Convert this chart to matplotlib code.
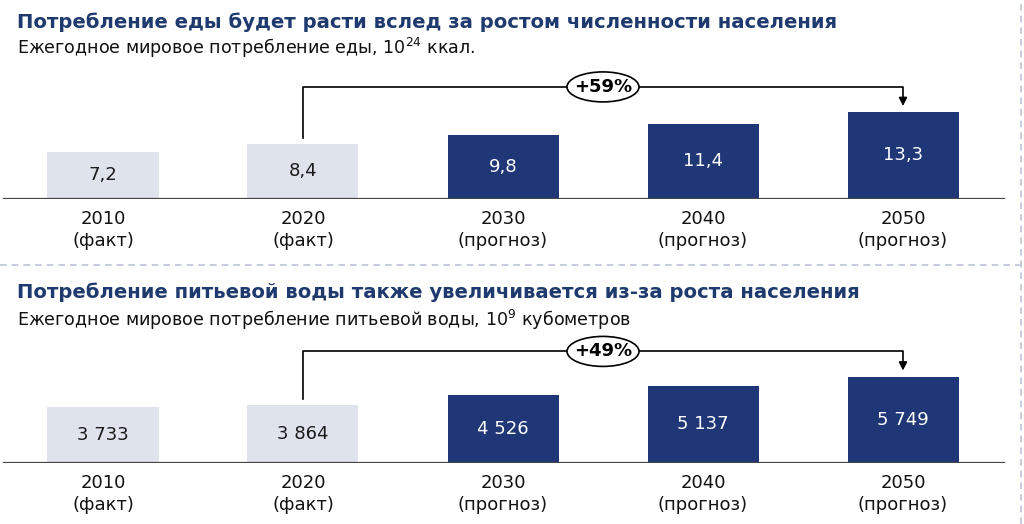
import numpy as np
import matplotlib.pyplot as plt
from matplotlib.patches import Ellipse

plt.rcParams['font.family'] = ['DejaVu Sans']

years = ['2010', '2020', '2030', '2040', '2050']
kinds = ['(факт)', '(факт)', '(прогноз)', '(прогноз)', '(прогноз)']

food_values = [7.2, 8.4, 9.8, 11.4, 13.3]
food_labels = ['7,2', '8,4', '9,8', '11,4', '13,3']
food_growth = '+59%'
food_title = 'Потребление еды будет расти вслед за ростом численности населения'
food_sub = 'Ежегодное мировое потребление еды, 10$^{24}$ ккал.'

water_values = [3733, 3864, 4526, 5137, 5749]
water_labels = ['3 733', '3 864', '4 526', '5 137', '5 749']
water_growth = '+49%'
water_title = 'Потребление питьевой воды также увеличивается из-за роста населения'
water_sub = 'Ежегодное мировое потребление питьевой воды, 10$^{9}$ кубометров'

W, H = 1024, 524
LIGHT = '#DFE3EC'
DARK = '#1F3677'
TITLE_C = '#1F3A6E'
GRID_C = '#BCC4D4'

fig = plt.figure(figsize=(W / 100, H / 100), dpi=100)


def fx(px):
    return px / W


def fy(py):
    return 1 - py / H


def draw_panel(values, labels, growth, title, sub, y_title, y_sub, y_base):
    top_px = y_base - 140
    ax = fig.add_axes([fx(3), fy(y_base), fx(1005 - 3), (y_base - top_px) / H])
    vmax = max(values)
    k = 86.5 / vmax            # pixels per unit
    ax.set_ylim(0, 140 / k)
    ax.set_xlim(-0.5, 4.51)
    ax.axis('off')

    x = np.arange(len(values))
    colors = [LIGHT, LIGHT, DARK, DARK, DARK]
    ax.bar(x, values, width=0.555, color=colors, zorder=2)
    ax.axhline(0, color='#444444', lw=1.6, zorder=3)

    for i, v in enumerate(values):
        tc = '#1a1a1a' if i < 2 else 'white'
        ax.text(i, v / 2, labels[i], ha='center', va='center', fontsize=13,
                color=tc, zorder=4)

    # bracket from 2020 to 2050
    yb = vmax * 1.29
    gap = 6 / k
    ax.plot([1, 1, 4, 4], [values[1] + gap, yb, yb, vmax + gap + 6 / k],
            color='black', lw=1.2, zorder=3)
    ax.annotate('', xy=(4, vmax + gap), xytext=(4, vmax + gap + 7 / k),
                arrowprops=dict(arrowstyle='-|>', color='black', lw=1.2,
                                mutation_scale=12, shrinkA=0, shrinkB=0))
    ax.add_patch(Ellipse((2.5, yb), 72 / 200, 30 / k, facecolor='white',
                         edgecolor='black', lw=1.2, zorder=5))
    ax.text(2.5, yb, growth, ha='center', va='center', fontsize=13,
            fontweight='bold', zorder=6)

    for i in range(len(years)):
        fig.text(fx(103 + 200 * i), fy(y_base + 20), years[i], ha='center',
                 va='center', fontsize=13, color='#111111')
        fig.text(fx(103 + 200 * i), fy(y_base + 42), kinds[i], ha='center',
                 va='center', fontsize=13, color='#111111')

    fig.text(fx(17), fy(y_title), title, ha='left', va='center', fontsize=14.1,
             fontweight='bold', color=TITLE_C)
    fig.text(fx(17), fy(y_sub), sub, ha='left', va='center', fontsize=12.6,
             color='#111111')


draw_panel(food_values, food_labels, food_growth, food_title, food_sub,
           22, 48, 198.5)
draw_panel(water_values, water_labels, water_growth, water_title, water_sub,
           292, 320, 463)

# dashed separators
fig.add_artist(plt.Line2D([0, fx(1020)], [fy(265), fy(265)], color=GRID_C,
                          lw=1.2, ls=(0, (4, 3))))
fig.add_artist(plt.Line2D([fx(1021), fx(1021)], [0, 1], color=GRID_C,
                          lw=1.2, ls=(0, (4, 3))))

fig.savefig('out.png', dpi=100)
